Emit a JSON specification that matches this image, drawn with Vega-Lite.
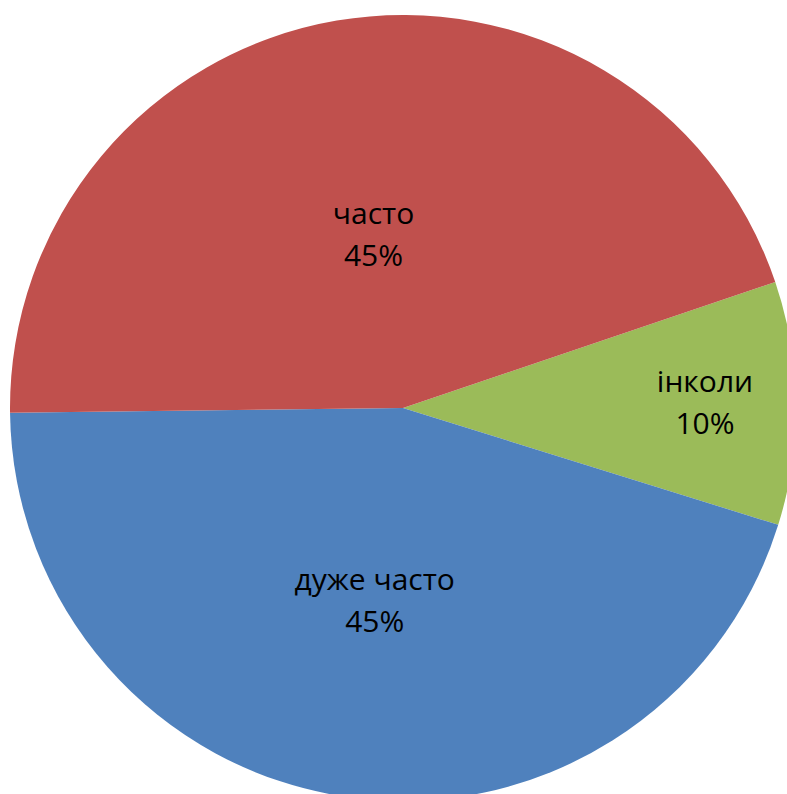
{
  "$schema": "https://vega.github.io/schema/vega-lite/v6.json",
  "width": 768,
  "height": 772,
  "padding": {"left": 19, "top": 22, "right": 0, "bottom": 0},
  "autosize": {"type": "none"},
  "background": "white",
  "view": {"stroke": null},
  "data": {
    "values": [
      {"category": "інколи", "value": 10, "rank": 1},
      {"category": "дуже часто", "value": 45, "rank": 2},
      {"category": "часто", "value": 45, "rank": 3}
    ]
  },
  "transform": [
    {"stack": "value", "groupby": [], "sort": [{"field": "rank", "order": "ascending"}], "as": ["v0", "v1"]},
    {"calculate": "(datum.v0 + datum.v1) / 2", "as": "mid"},
    {"calculate": "datum.category + '\\n' + datum.value + '%'", "as": "label"}
  ],
  "layer": [
    {
      "mark": {"type": "arc", "radius": 393},
      "encoding": {
        "theta": {"field": "v0", "type": "quantitative", "stack": null, "scale": {"domain": [0, 100], "range": [1.2444, 7.5276]}},
        "theta2": {"field": "v1"},
        "color": {
          "field": "category", "type": "nominal",
          "scale": {"domain": ["інколи", "дуже часто", "часто"], "range": ["#9BBB59", "#4F81BD", "#C0504D"]},
          "legend": null
        }
      }
    },
    {
      "transform": [{"filter": "datum.category === 'часто'"}],
      "mark": {"type": "text", "radius": 175, "dy": -21, "fontSize": 30, "font": "Open Sans", "lineHeight": 42, "lineBreak": "\n", "align": "center", "baseline": "middle", "color": "#000000"},
      "encoding": {
        "theta": {"field": "mid", "type": "quantitative", "stack": null},
        "text": {"field": "label", "type": "nominal"}
      }
    },
    {
      "transform": [{"filter": "datum.category === 'дуже часто'"}],
      "mark": {"type": "text", "radius": 196, "dy": -21, "fontSize": 30, "font": "Open Sans", "lineHeight": 42, "lineBreak": "\n", "align": "center", "baseline": "middle", "color": "#000000"},
      "encoding": {
        "theta": {"field": "mid", "type": "quantitative", "stack": null},
        "text": {"field": "label", "type": "nominal"}
      }
    },
    {
      "transform": [{"filter": "datum.category === 'інколи'"}],
      "mark": {"type": "text", "radius": 302, "dy": -21, "fontSize": 30, "font": "Open Sans", "lineHeight": 42, "lineBreak": "\n", "align": "center", "baseline": "middle", "color": "#000000"},
      "encoding": {
        "theta": {"field": "mid", "type": "quantitative", "stack": null},
        "text": {"field": "label", "type": "nominal"}
      }
    }
  ]
}
